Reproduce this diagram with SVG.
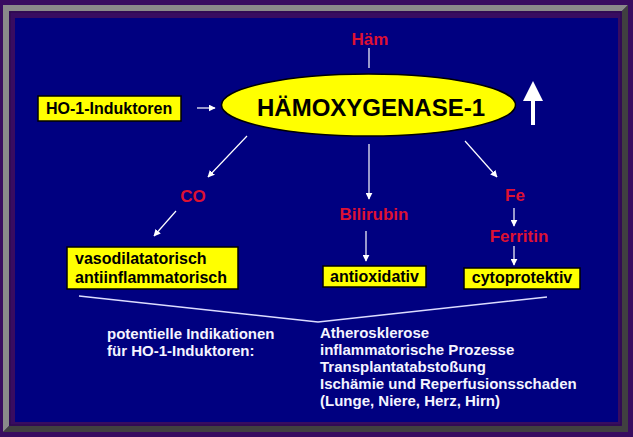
<svg xmlns="http://www.w3.org/2000/svg" width="633" height="437" viewBox="0 0 633 437">
<defs>
<style>
.box{fill:#ffff00;stroke:#000;stroke-width:1.5}
.bt{font-family:"Liberation Sans",Arial,sans-serif;font-weight:bold;font-size:16px;fill:#000}
.red{font-family:"Liberation Sans",Arial,sans-serif;font-weight:bold;font-size:17px;fill:#dd1133;text-anchor:middle}
.wt{font-family:"Liberation Sans",Arial,sans-serif;font-weight:bold;font-size:15px;fill:#f4f4ff}
.con{stroke:#fff;stroke-width:1.2;fill:none}
</style>
<marker id="ah" viewBox="0 0 10 10" refX="9" refY="5" markerWidth="7" markerHeight="7" markerUnits="userSpaceOnUse" orient="auto">
<path d="M0,0 L10,5 L0,10 z" fill="#fff"/>
</marker>
</defs>
<rect x="0" y="0" width="633" height="437" fill="#380c60"/>
<polygon points="3,5 628,5 622,11 9,11 9,426 3,432" fill="#8a8a8a"/>
<polygon points="628,5 628,432 3,432 9,426 622,426 622,11" fill="#404040"/>
<rect x="9" y="11" width="613" height="415" fill="#380c60"/>
<rect x="10" y="12" width="611" height="413" fill="none" stroke="#2a0848" stroke-width="1"/>
<rect x="15" y="18" width="603" height="404" fill="#000080"/>

<g id="connectors">
<line class="con" x1="369" y1="48" x2="369" y2="68"/>
<line class="con" x1="197" y1="108" x2="215" y2="108" marker-end="url(#ah)"/>
<line class="con" x1="247" y1="136" x2="208" y2="177" marker-end="url(#ah)"/>
<line class="con" x1="176" y1="211" x2="154" y2="236" marker-end="url(#ah)"/>
<line class="con" x1="369" y1="144" x2="369" y2="199" marker-end="url(#ah)"/>
<line class="con" x1="366" y1="231" x2="366" y2="261" marker-end="url(#ah)"/>
<line class="con" x1="465" y1="141" x2="497" y2="177" marker-end="url(#ah)"/>
<line class="con" x1="514" y1="208" x2="514" y2="226" marker-end="url(#ah)"/>
<line class="con" x1="514" y1="246" x2="514" y2="265" marker-end="url(#ah)"/>
<polyline points="79,296 318,322 547,297" style="stroke:#dcdcff;stroke-width:1.5;fill:none"/>
</g>

<g id="haem"><text class="red" x="370" y="45">Häm</text></g>

<g id="hmox">
<ellipse cx="368.5" cy="105" rx="147" ry="31" class="box"/>
<text x="371" y="116" text-anchor="middle" style="font-family:'Liberation Sans',Arial,sans-serif;font-weight:bold;font-size:24px;fill:#000">HÄMOXYGENASE-1</text>
</g>

<g id="induktoren">
<rect x="38" y="96" width="143" height="25" class="box"/>
<text class="bt" x="46" y="114">HO-1-Induktoren</text>
</g>

<g id="up-arrow">
<polygon points="533,81 543,101 535,101 535,125 531,125 531,101 523,101" fill="#fff"/>
</g>

<g id="co"><text class="red" x="193" y="202">CO</text></g>
<g id="bilirubin"><text class="red" x="374" y="220">Bilirubin</text></g>
<g id="fe"><text class="red" x="515" y="201">Fe</text></g>
<g id="ferritin"><text class="red" x="519" y="242">Ferritin</text></g>

<g id="vaso">
<rect x="67" y="247" width="171" height="42" class="box"/>
<text class="bt" x="75" y="264">vasodilatatorisch</text>
<text class="bt" x="75" y="283">antiinflammatorisch</text>
</g>

<g id="antiox">
<rect x="323" y="266" width="103" height="21" class="box"/>
<text class="bt" x="374.5" y="282" text-anchor="middle">antioxidativ</text>
</g>

<g id="cyto">
<rect x="464" y="268" width="116" height="21" class="box"/>
<text class="bt" x="522" y="283" text-anchor="middle">cytoprotektiv</text>
</g>

<g id="indikationen">
<text class="wt" x="107" y="339">potentielle Indikationen</text>
<text class="wt" x="107" y="356">für HO-1-Induktoren:</text>
</g>

<g id="liste">
<text class="wt" x="320" y="338">Atherosklerose</text>
<text class="wt" x="320" y="355">inflammatorische Prozesse</text>
<text class="wt" x="320" y="372">Transplantatabstoßung</text>
<text class="wt" x="320" y="389">Ischämie und Reperfusionsschaden</text>
<text class="wt" x="320" y="406">(Lunge, Niere, Herz, Hirn)</text>
</g>
</svg>
